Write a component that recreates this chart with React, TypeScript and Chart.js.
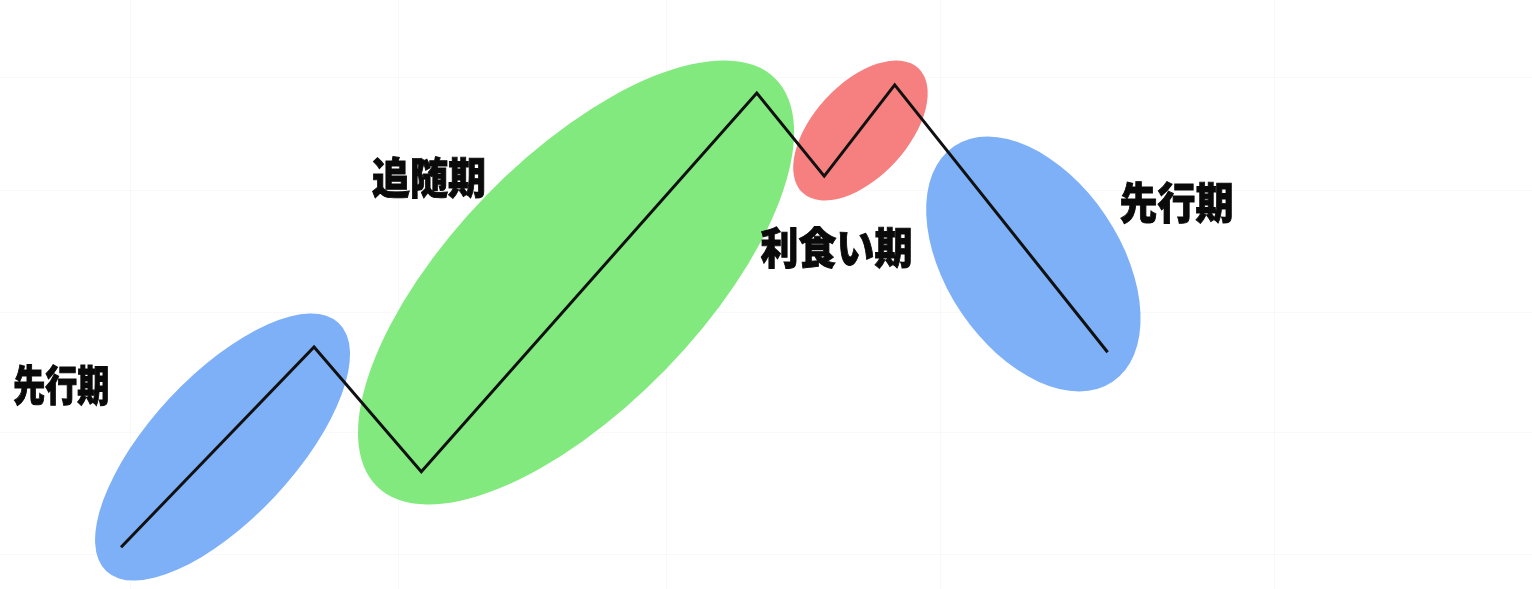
import React, { useEffect, useRef } from "react";
import { Chart, registerables } from "chart.js";

Chart.register(...registerables);

// Price path (time %, price %)
const timeValues = [7.9, 20.5, 27.5, 49.4, 53.8, 58.4, 72.3];
const priceValues = [7.1, 41.1, 19.9, 84.2, 70.1, 85.6, 40.2];

// Faint background grid positions (data units)
const gridX = [8.5, 26, 43.5, 61.4, 83.2];
const gridY = [5.8, 26.5, 47.0, 67.7, 86.9];

// Phase labels
const phaseTexts = ["先行期", "追随期", "利食い期", "先行期"];
const phaseX = [4.0, 28.0, 54.6, 76.8];
const phaseY = [34.6, 69.9, 58.0, 65.6];

// Phase ellipses anchored on path segments (from, to, fraction along)
const ellipseFrom = [0, 2, 4, 5];
const ellipseTo = [1, 3, 5, 6];
const ellipseAt = [0.5, 0.5, 0.5, 0.67];

const ellipseStyle = [
  { a: 170, b: 72, dx: 5, dy: 0, rot: -0.015, color: "rgb(126,176,248)" },
  { a: 285, b: 125, dx: -13, dy: 0, rot: 0.047, color: "rgb(130,233,126)" },
  { a: 85, b: 47, dx: 1, dy: 0, rot: 0.09, color: "rgb(246,128,128)" },
  { a: 142, b: 87, dx: -4, dy: 0, rot: 0.08, color: "rgb(126,176,248)" },
];
const labelStyle = [
  { size: 32, sy: 1.32 },
  { size: 38, sy: 1.15 },
  { size: 38, sy: 1.15 },
  { size: 38, sy: 1.15 },
];

const ellipsePlugin = {
  id: "phaseEllipses",
  beforeDatasetsDraw(chart: any) {
    const pts = chart.getDatasetMeta(0).data;
    const ctx = chart.ctx;
    ctx.save();
    ellipseFrom.forEach((f, i) => {
      const p = pts[f];
      const q = pts[ellipseTo[i]];
      const t = ellipseAt[i];
      const st = ellipseStyle[i];
      const cx = p.x + (q.x - p.x) * t + st.dx;
      const cy = p.y + (q.y - p.y) * t + st.dy;
      const ang = Math.atan2(q.y - p.y, q.x - p.x) + st.rot;
      ctx.beginPath();
      ctx.ellipse(cx, cy, st.a, st.b, ang, 0, Math.PI * 2);
      ctx.fillStyle = st.color;
      ctx.fill();
    });
    ctx.restore();
  },
};

const labelPlugin = {
  id: "phaseLabels",
  afterDatasetsDraw(chart: any) {
    const ctx = chart.ctx;
    const xs = chart.scales.x;
    const ys = chart.scales.y;
    phaseTexts.forEach((txt, i) => {
      const px = xs.getPixelForValue(phaseX[i]);
      const py = ys.getPixelForValue(phaseY[i]);
      const st = labelStyle[i];
      ctx.save();
      ctx.translate(px, py);
      ctx.scale(1, st.sy);
      ctx.font = `900 ${st.size}px "Noto Sans CJK JP"`;
      ctx.fillStyle = "#0a0a0a";
      ctx.strokeStyle = "#0a0a0a";
      ctx.lineWidth = 0.8;
      ctx.textAlign = "center";
      ctx.textBaseline = "middle";
      ctx.fillText(txt, 0, 0);
      ctx.strokeText(txt, 0, 0);
      ctx.restore();
    });
  },
};

export default function App() {
  const ref = useRef<HTMLCanvasElement | null>(null);
  useEffect(() => {
    if (!ref.current) return;
    const chart = new Chart(ref.current, {
      type: "line",
      data: {
        datasets: [
          {
            data: timeValues.map((x, i) => ({ x, y: priceValues[i] })),
            borderColor: "#111",
            borderWidth: 3,
            pointRadius: 0,
            tension: 0,
            fill: false,
            borderJoinStyle: "miter",
          },
        ],
      },
      options: {
        animation: false,
        responsive: true,
        maintainAspectRatio: false,
        layout: { padding: 0 },
        plugins: { legend: { display: false }, tooltip: { enabled: false } },
        scales: {
          x: {
            type: "linear",
            min: 0,
            max: 100,
            ticks: { display: false },
            border: { display: false },
            grid: { color: "rgba(0,0,0,0.022)", drawTicks: false },
            afterBuildTicks: (s: any) => {
              s.ticks = gridX.map((v) => ({ value: v }));
            },
          },
          y: {
            type: "linear",
            min: 0,
            max: 100,
            ticks: { display: false },
            border: { display: false },
            grid: { color: "rgba(0,0,0,0.022)", drawTicks: false },
            afterBuildTicks: (s: any) => {
              s.ticks = gridY.map((v) => ({ value: v }));
            },
          },
        },
      } as any,
      plugins: [ellipsePlugin, labelPlugin],
    });
    return () => chart.destroy();
  }, []);
  return (
    <div style={{ position: "fixed", left: 0, top: 0, width: 1532, height: 589, background: "#fff" }}>
      <canvas ref={ref} />
    </div>
  );
}
